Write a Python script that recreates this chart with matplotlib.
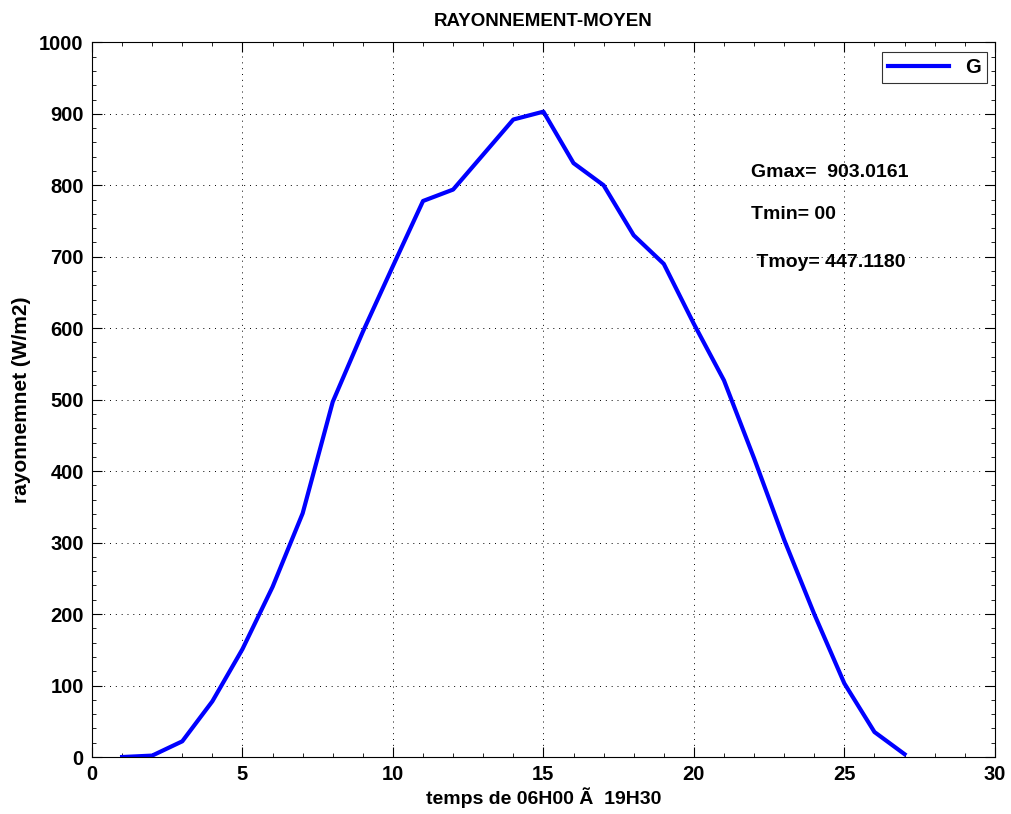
import matplotlib
matplotlib.use("Agg")
import matplotlib.pyplot as plt
from matplotlib.ticker import MultipleLocator

hours = list(range(1, 28))
G = [0, 2, 22, 78, 151, 238, 341, 497, 595, 687, 778, 794, 843, 892, 903,
     831, 800, 730, 690, 606, 527, 418, 304, 200, 103, 35, 4]

title = "RAYONNEMENT-MOYEN"
xlabel = "temps de 06H00 Ã\u00a0 19H30"
ylabel = "rayonnemnet (W/m2)"
annot = ["Gmax=  903.0161", "Tmin= 00", " Tmoy= 447.1180"]

plt.rcParams['font.family'] = ['Liberation Sans', 'DejaVu Sans']
plt.rcParams['font.weight'] = 'bold'

fig = plt.figure(figsize=(10.11, 8.14), dpi=100)
ax = fig.add_axes([0.091, 0.070, 0.893, 0.878])
ax.plot(hours, G, color='#0000ff', lw=3.0, label='G')
ax.set_xlim(0, 30)
ax.set_ylim(0, 1000)
ax.xaxis.set_major_locator(MultipleLocator(5))
ax.yaxis.set_major_locator(MultipleLocator(100))
ax.xaxis.set_minor_locator(MultipleLocator(1))
ax.yaxis.set_minor_locator(MultipleLocator(20))
ax.tick_params(which='both', direction='in', top=True, right=True, labelsize=14.5)
ax.tick_params(which='major', length=7, width=0.8, pad=6)
ax.tick_params(which='minor', length=3, width=0.6)
for lab in ax.get_xticklabels() + ax.get_yticklabels():
    lab.set_fontweight('bold')
ax.grid(True, which='major', color='black', linestyle=(0, (1, 5)), lw=0.7)
ax.set_title(title, fontsize=13.5, fontweight='bold', pad=12)
ax.set_xlabel(xlabel, fontsize=14, fontweight='bold', labelpad=2)
ax.set_ylabel(ylabel, fontsize=15, fontweight='bold', labelpad=6)
for sp in ax.spines.values():
    sp.set_linewidth(0.8)

ax.text(21.9, 818, annot[0], fontsize=14, fontweight='bold', va='center', ha='left')
ax.text(21.9, 759, annot[1], fontsize=14, fontweight='bold', va='center', ha='left')
ax.text(21.9, 692, annot[2], fontsize=14, fontweight='bold', va='center', ha='left')

leg = ax.legend(loc='upper right', fontsize=14.5, frameon=True, fancybox=False,
                handlelength=3.0, borderpad=0.3, borderaxespad=0,
                bbox_to_anchor=(0.991, 0.986))
leg.get_frame().set_edgecolor('black')
leg.get_frame().set_linewidth(0.8)
for t in leg.get_texts():
    t.set_fontweight('bold')

fig.savefig("out.png", dpi=100)
